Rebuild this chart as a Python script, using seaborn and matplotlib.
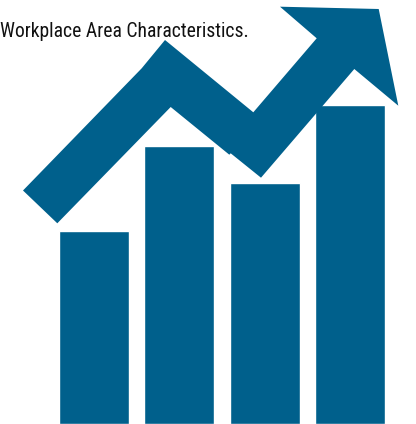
import pandas as pd
import seaborn as sns
import matplotlib.pyplot as plt

# bar heights and arrow outline (pixels)
categories = ["A", "B", "C", "D"]
bar_heights = [193, 278, 241, 319]
arrow_x = [23, 141.7, 165, 253.3, 316.7, 280, 378.7, 398.3, 354.3, 261, 230.7, 229.3, 170.7, 57.3]
arrow_y = [190.5, 68.3, 40, 112.3, 38.3, 6.7, 9, 105.7, 69, 177.7, 153.3, 154.7, 107, 223.3]
caption = "Workplace Area Characteristics."

BLUE = "#00608C"

sns.set_theme(style="white")
plt.rcParams["font.family"] = ["Roboto Condensed", "DejaVu Sans"]

df = pd.DataFrame({"category": categories, "height": bar_heights})

fig = plt.figure(figsize=(4.16, 4.24), dpi=100)
ax = fig.add_axes([0, 0, 1, 1])
sns.barplot(data=df, x="category", y="height", color=BLUE, saturation=1, width=0.82, ax=ax)
ax.set_xlim(-1.100, 3.775)
ax.set_ylim(0, 424)
ax.axis("off")

# arrow sits on a second axes in picture coordinates
over = fig.add_axes([0, 0, 1, 1])
over.patch.set_alpha(0)
over.fill(arrow_x, arrow_y, color=BLUE, linewidth=0)
over.set_xlim(0, 416)
over.set_ylim(424, 0)
over.axis("off")
over.text(0, 37, caption, fontsize=14.15, color="#111111", ha="left", va="baseline")

fig.savefig("out.png", dpi=100)
